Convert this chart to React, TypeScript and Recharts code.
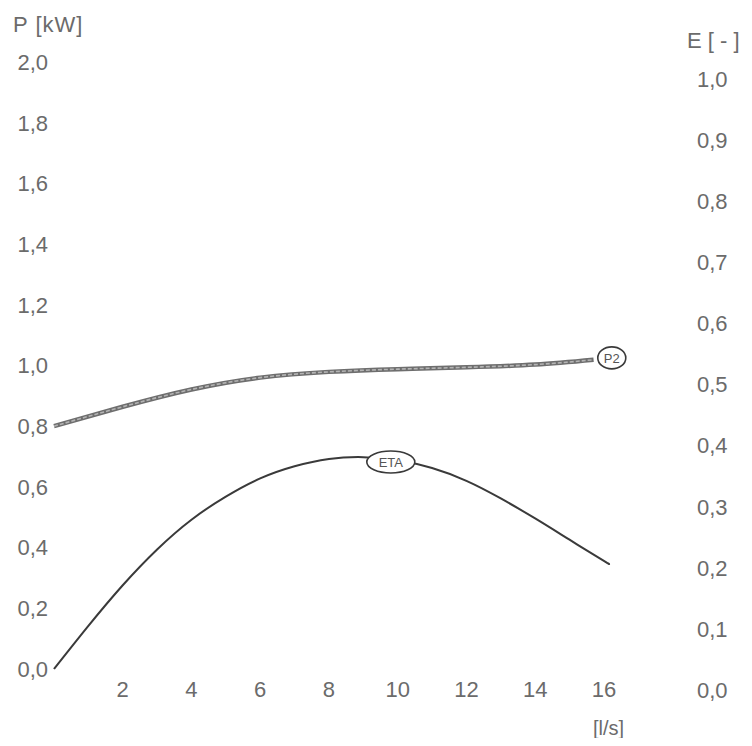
import { LineChart, Line, XAxis, YAxis, ReferenceDot } from 'recharts'

// flow [l/s] vs power P2 [kW] (left axis)
const flowP2 = [0, 2, 4, 6, 8, 10, 12, 14, 15.7]
const p2Values = [0.8, 0.864, 0.921, 0.96, 0.979, 0.988, 0.994, 1.003, 1.019]

// flow [l/s] vs efficiency ETA [-] (right axis)
const flowEta = [0, 1, 2, 3, 4, 5, 6, 7, 8, 9, 10, 11, 12, 13, 14, 15, 16, 16.12]
const etaValues = [0, 0.071, 0.138, 0.197, 0.246, 0.284, 0.314, 0.334, 0.346, 0.349, 0.344, 0.331, 0.31, 0.281, 0.248, 0.213, 0.178, 0.174]

const xTicks = [2, 4, 6, 8, 10, 12, 14, 16]
const pTicks = [0, 0.2, 0.4, 0.6, 0.8, 1.0, 1.2, 1.4, 1.6, 1.8, 2.0]
const eTicks = [0, 0.1, 0.2, 0.3, 0.4, 0.5, 0.6, 0.7, 0.8, 0.9, 1.0]

const p2Data = flowP2.map((q, i) => ({ q, p2: p2Values[i] }))
const etaData = flowEta.map((q, i) => ({ q, eta: etaValues[i] }))

const FONT = '"Liberation Sans", Arial, sans-serif'
const TEXT = '#6b6b6b'

const comma = (v: number) => v.toFixed(1).replace('.', ',')

// right axis labels in the scan sit a bit lower than the left ones
const RightTick = (props: any) => {
  const { x, y, payload } = props
  const v = payload.value as number
  return (
    <text x={x} y={y + 21 - 4 * v} dy="0.355em" textAnchor="start" fill={TEXT} fontSize={22} fontFamily={FONT}>
      {comma(v)}
    </text>
  )
}

const Tag = (props: any) => {
  const { cx, cy, label, rx } = props
  return (
    <g>
      <ellipse cx={cx} cy={cy} rx={rx} ry={11} fill="#fff" stroke="#3a3a3a" strokeWidth={1.6} />
      <text x={cx} y={cy} dy="0.36em" textAnchor="middle" fontSize={13} fill="#555" fontFamily={FONT}>
        {label}
      </text>
    </g>
  )
}

export default function App() {
  return (
    <div style={{ margin: -8, position: 'relative', width: 752, height: 746, background: '#fff', fontFamily: FONT }}>
      <div style={{ position: 'absolute', left: 13, top: 12, fontSize: 22, color: TEXT, letterSpacing: 1 }}>P [kW]</div>
      <div style={{ position: 'absolute', left: 687, top: 28, fontSize: 22, color: TEXT }}>E [ - ]</div>
      <div style={{ position: 'absolute', left: 593, top: 717, fontSize: 20, color: TEXT }}>[l/s]</div>
      <LineChart width={752} height={746} margin={{ top: 62, right: 0, bottom: 0, left: 0 }}>
        <XAxis
          type="number"
          dataKey="q"
          domain={[0, 17.4]}
          ticks={xTicks}
          axisLine={false}
          tickLine={false}
          tickSize={0}
          tickMargin={12}
          height={77}
          tick={{ fill: TEXT, fontSize: 22, fontFamily: FONT }}
        />
        <YAxis
          yAxisId="p"
          orientation="left"
          domain={[0, 2]}
          ticks={pTicks}
          width={54}
          axisLine={false}
          tickLine={false}
          tickSize={0}
          tickMargin={6}
          tickFormatter={comma}
          tick={{ fill: TEXT, fontSize: 22, fontFamily: FONT }}
        />
        <YAxis
          yAxisId="e"
          orientation="right"
          domain={[0, 1]}
          ticks={eTicks}
          width={100}
          axisLine={false}
          tickLine={false}
          tickSize={0}
          tickMargin={45}
          tick={<RightTick />}
        />
        <Line
          yAxisId="p"
          data={p2Data}
          dataKey="p2"
          type="natural"
          stroke="#6e6e6e"
          strokeWidth={4.5}
          dot={false}
          isAnimationActive={false}
        />
        <Line
          yAxisId="p"
          data={p2Data}
          dataKey="p2"
          type="natural"
          stroke="#b4b4b4"
          strokeWidth={1.6}
          strokeDasharray="4 2"
          dot={false}
          isAnimationActive={false}
        />
        <Line
          yAxisId="e"
          data={etaData}
          dataKey="eta"
          type="natural"
          stroke="#3a3a3a"
          strokeWidth={2}
          dot={false}
          isAnimationActive={false}
        />
        <ReferenceDot yAxisId="p" x={16.23} y={1.025} shape={(p: any) => <Tag {...p} label="P2" rx={14} />} />
        <ReferenceDot yAxisId="e" x={9.8} y={0.341} shape={(p: any) => <Tag {...p} label="ETA" rx={24} />} />
      </LineChart>
    </div>
  )
}
